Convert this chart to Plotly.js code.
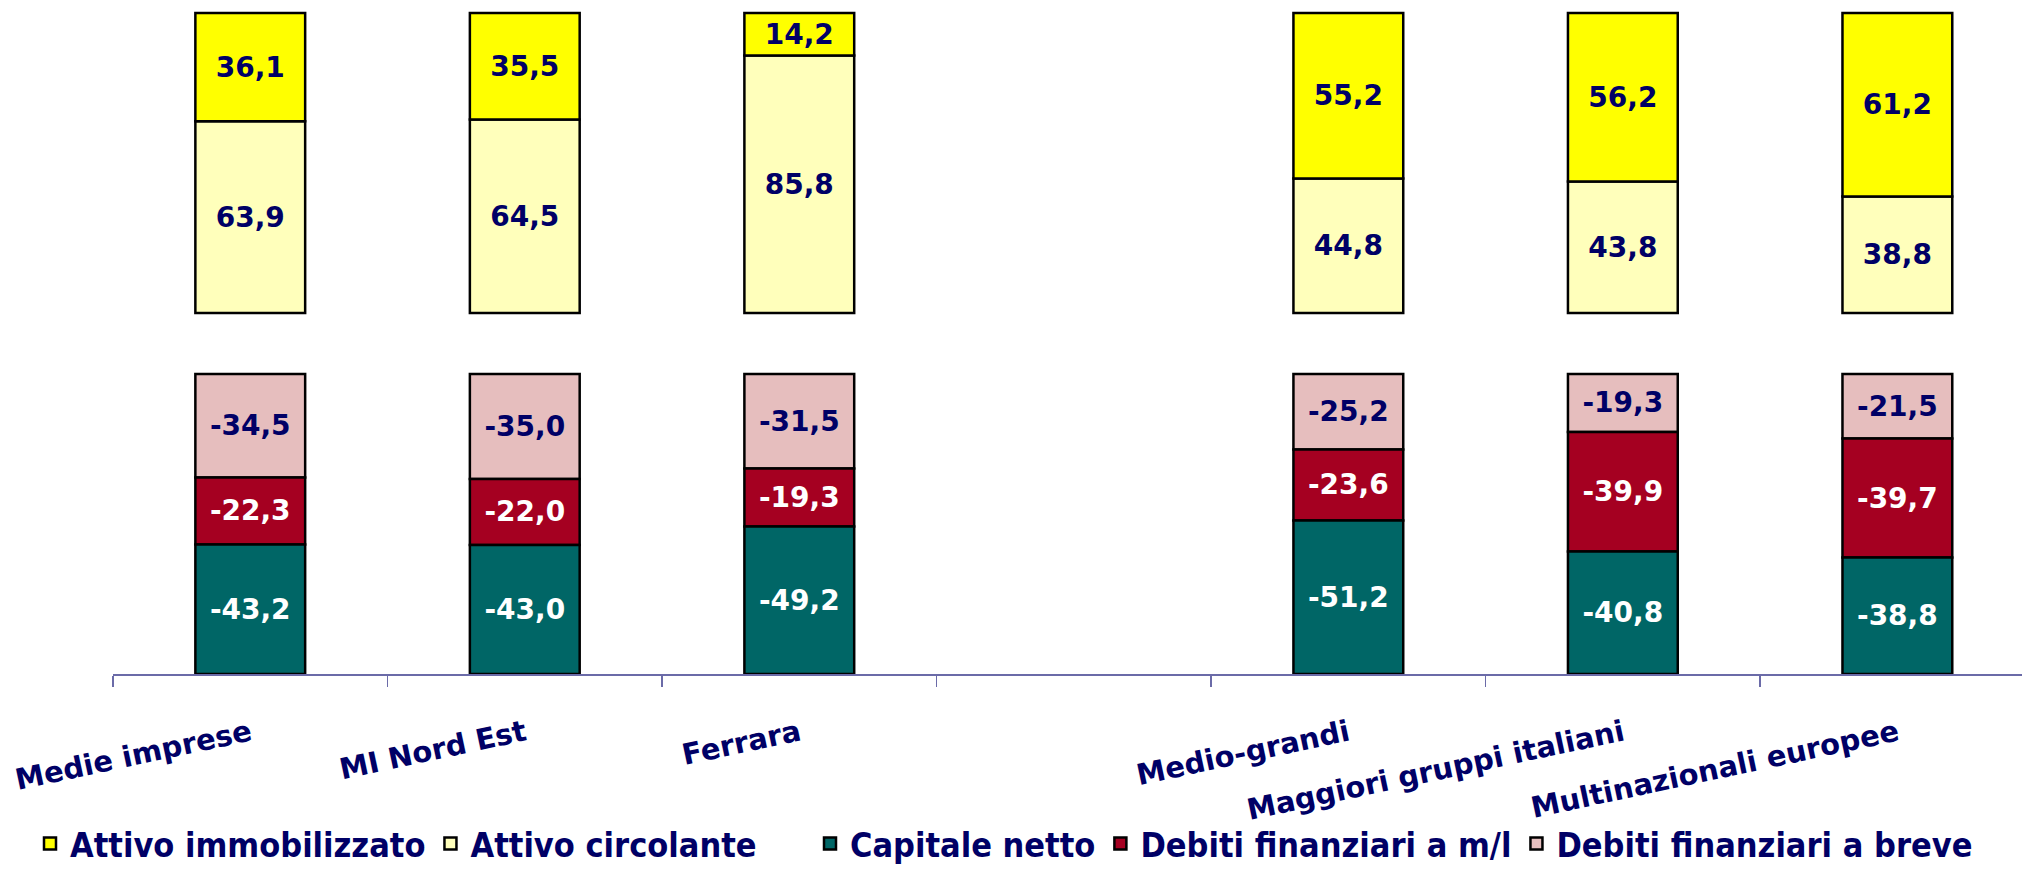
<!DOCTYPE html>
<html>
<head>
<meta charset="utf-8">
<script src="https://cdn.plot.ly/plotly-3.0.1.min.js"></script>
<style>
  html, body { margin: 0; padding: 0; background: #ffffff; }
  #chart { width: 2022px; height: 869px; }
</style>
</head>
<body>
<div id="chart"></div>
<script>
// Composition of assets (top) and liabilities (bottom), % values
const categories = ['Medie imprese', 'MI Nord Est', 'Ferrara', ' ', 'Medio-grandi', 'Maggiori gruppi italiani', 'Multinazionali europee'];

const attivoImmobilizzato = [36.1, 35.5, 14.2, null, 55.2, 56.2, 61.2];
const attivoCircolante    = [63.9, 64.5, 85.8, null, 44.8, 43.8, 38.8];
const capitaleNetto       = [-43.2, -43.0, -49.2, null, -51.2, -40.8, -38.8];
const debitiML            = [-22.3, -22.0, -19.3, null, -23.6, -39.9, -39.7];
const debitiBreve         = [-34.5, -35.0, -31.5, null, -25.2, -19.3, -21.5];

const NAVY = '#000066';
const AXIS = '#6B6BA8';
const FONT = '"DejaVu Sans", Verdana, sans-serif';
const FONT_NARROW = '"DejaVu Sans Condensed", "DejaVu Sans", sans-serif';

// labels with comma decimals, like the Italian original
function fmt(v) {
    if (v === null) return '';
    return v.toFixed(1).replace('.', ',');
}

function barTrace(name, values, color, textColor, axis, legend, rank) {
    return {
        type: 'bar',
        name: name,
        x: categories,
        y: values,
        yaxis: axis,
        legend: legend,
        legendrank: rank,
        width: 0.4,
        marker: { color: color, line: { color: '#000000', width: 2.5 } },
        text: values.map(fmt),
        textposition: 'inside',
        insidetextanchor: 'middle',
        textangle: 0,
        textfont: { family: FONT, size: 28, color: textColor, weight: 'bold' },
        hoverinfo: 'name+text'
    };
}

// stacking order: first trace sits next to zero
const traces = [
    barTrace('Attivo circolante', attivoCircolante, '#FFFFBB', NAVY, 'y2', 'legend', 2),
    barTrace('Attivo immobilizzato', attivoImmobilizzato, '#FFFF00', NAVY, 'y2', 'legend', 1),
    barTrace('Debiti finanziari a breve', debitiBreve, '#E6BEBE', NAVY, 'y', 'legend2', 3),
    barTrace('Debiti finanziari a m/l', debitiML, '#A50021', '#FFFFFF', 'y', 'legend2', 2),
    barTrace('Capitale netto', capitaleNetto, '#006666', '#FFFFFF', 'y', 'legend2', 1)
];

const legendFont = { family: FONT_NARROW, size: 34, color: NAVY, weight: 'bold' };

const layout = {
    width: 2022,
    height: 869,
    paper_bgcolor: '#ffffff',
    plot_bgcolor: '#ffffff',
    margin: { l: 113, r: 0, t: 10, b: 195 },
    barmode: 'relative',
    showlegend: true,
    xaxis: {
        type: 'category',
        anchor: 'y',
        range: [-0.5, 6.454],
        showline: true,
        linecolor: AXIS,
        linewidth: 1.5,
        ticks: 'outside',
        tickson: 'boundaries',
        ticklen: 11,
        tickwidth: 1.5,
        tickcolor: AXIS,
        tickangle: -12,
        ticklabelstandoff: 30,
        tickfont: { family: FONT, size: 29, color: NAVY, weight: 'bold' },
        showgrid: false,
        zeroline: false,
        automargin: false,
        fixedrange: true
    },
    yaxis: {
        domain: [0, 0.45633],
        range: [-100, 1],
        visible: false,
        fixedrange: true
    },
    yaxis2: {
        domain: [0.53916, 1],
        range: [-1, 101],
        anchor: 'x',
        visible: false,
        fixedrange: true
    },
    legend: {
        orientation: 'h',
        xref: 'container',
        yref: 'container',
        x: 30 / 2022,
        xanchor: 'left',
        y: 25 / 869,
        yanchor: 'middle',
        font: legendFont,
        bgcolor: 'rgba(0,0,0,0)'
    },
    legend2: {
        orientation: 'h',
        xref: 'container',
        yref: 'container',
        x: 810 / 2022,
        xanchor: 'left',
        y: 25 / 869,
        yanchor: 'middle',
        font: legendFont,
        bgcolor: 'rgba(0,0,0,0)'
    }
};

Plotly.newPlot('chart', traces, layout, { displayModeBar: false, staticPlot: true });
</script>
</body>
</html>
